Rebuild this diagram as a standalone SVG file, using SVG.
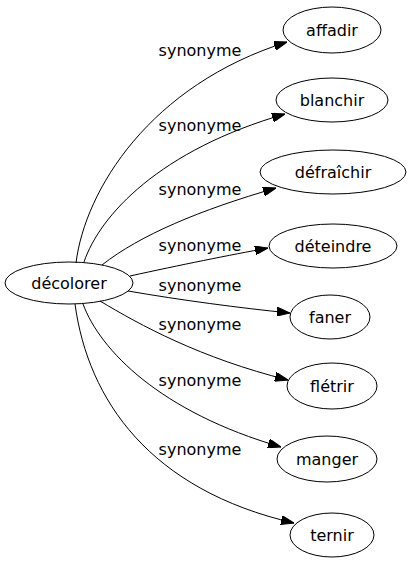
<svg xmlns="http://www.w3.org/2000/svg" width="411" height="563" viewBox="0 0 411 563">
<style>
.n ellipse{fill:none;stroke:#000;stroke-width:1}
.n text,.lbl text{font-family:"DejaVu Sans",sans-serif;font-size:16px;fill:#000;text-anchor:middle}
.e path{fill:none;stroke:#000;stroke-width:1;marker-end:url(#ah)}
</style>
<defs>
<marker id="ah" viewBox="0 0 13 9" refX="13" refY="4.5" markerWidth="13" markerHeight="9" markerUnits="userSpaceOnUse" orient="auto">
<path d="M0,0 L13,4.5 L0,9 z" fill="#000" stroke="#000" stroke-width="1"/>
</marker>
</defs>
<rect width="411" height="563" fill="#fff"/>
<g id="edges" class="e">
<path d="M76,263 C85,190 150,85 287,42"/>
<path d="M84,262 C100,215 160,150 285,114"/>
<path d="M102,265 C140,235 200,210 276,188"/>
<path d="M130,276 C180,265 230,255 268,248"/>
<path d="M128,291 C180,300 240,308 290,313"/>
<path d="M100,301 C140,325 200,358 288,380"/>
<path d="M83,304 C100,350 160,412 281,447"/>
<path d="M75,304 C88,400 150,490 294,523"/>
</g>
<g id="labels" class="lbl">
<text x="200" y="56">synonyme</text>
<text x="200" y="131">synonyme</text>
<text x="200" y="195">synonyme</text>
<text x="200" y="251">synonyme</text>
<text x="200" y="291">synonyme</text>
<text x="200" y="330">synonyme</text>
<text x="200" y="386">synonyme</text>
<text x="200" y="455">synonyme</text>
</g>
<g id="decolorer" class="n"><ellipse cx="69" cy="283" rx="64" ry="21"/><text x="69" y="289">décolorer</text></g>
<g id="affadir" class="n"><ellipse cx="332" cy="30" rx="49" ry="23"/><text x="332" y="36">affadir</text></g>
<g id="blanchir" class="n"><ellipse cx="332" cy="100" rx="56" ry="22"/><text x="332" y="106">blanchir</text></g>
<g id="defraichir" class="n"><ellipse cx="333" cy="172" rx="73" ry="22"/><text x="333" y="178">défraîchir</text></g>
<g id="deteindre" class="n"><ellipse cx="333" cy="246" rx="64" ry="22"/><text x="333" y="252">déteindre</text></g>
<g id="faner" class="n"><ellipse cx="330" cy="317" rx="40" ry="22"/><text x="330" y="323">faner</text></g>
<g id="fletrir" class="n"><ellipse cx="332" cy="386" rx="45" ry="23"/><text x="332" y="392">flétrir</text></g>
<g id="manger" class="n"><ellipse cx="327" cy="459" rx="50" ry="23"/><text x="327" y="465">manger</text></g>
<g id="ternir" class="n"><ellipse cx="332" cy="535" rx="42" ry="22"/><text x="332" y="541">ternir</text></g>
</svg>
